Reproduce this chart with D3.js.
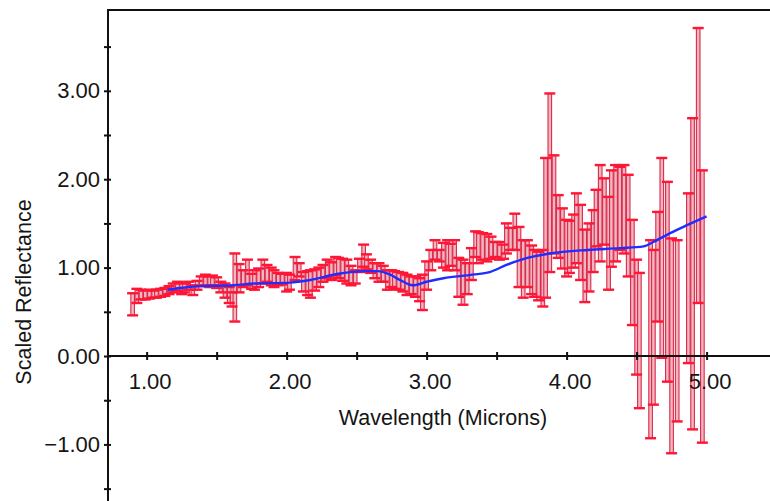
<!DOCTYPE html>
<html>
<head>
<meta charset="utf-8">
<script src="https://cdn.jsdelivr.net/npm/d3@7"></script>
<style>
  html, body { margin: 0; padding: 0; background: #fff; }
  svg { display: block; }
  text { font-family: "Liberation Sans", Arial, Helvetica, sans-serif; fill: #151515; }
</style>
</head>
<body>
<svg id="chart" width="770" height="501"></svg>
<script>
// ---- data ----
const wavelength = [
  0.90, 0.93, 0.96, 0.99, 1.02, 1.05, 1.07, 1.10, 1.13, 1.16,
  1.19, 1.22, 1.25, 1.27, 1.30, 1.33, 1.36, 1.39, 1.42, 1.45,
  1.47, 1.50, 1.53, 1.56, 1.59, 1.61, 1.63, 1.66, 1.69, 1.72,
  1.75, 1.77, 1.80, 1.83, 1.86, 1.89, 1.91, 1.94, 1.97, 2.00,
  2.02, 2.06, 2.09, 2.12, 2.15, 2.17, 2.20, 2.23, 2.26, 2.29,
  2.32, 2.35, 2.37, 2.40, 2.43, 2.46, 2.49, 2.52, 2.55, 2.57,
  2.60, 2.63, 2.66, 2.69, 2.72, 2.75, 2.77, 2.80, 2.83, 2.86,
  2.89, 2.92, 2.95, 2.97, 3.00, 3.03, 3.06, 3.09, 3.12, 3.15,
  3.17, 3.20, 3.23, 3.26, 3.29, 3.32, 3.35, 3.37, 3.40, 3.43,
  3.46, 3.49, 3.52, 3.55, 3.57, 3.60, 3.63, 3.66, 3.69, 3.72,
  3.75, 3.77, 3.80, 3.83, 3.85, 3.88, 3.91, 3.94, 3.97, 4.00,
  4.02, 4.05, 4.07, 4.10, 4.13, 4.16, 4.19, 4.21, 4.24, 4.27,
  4.30, 4.32, 4.35, 4.38, 4.41, 4.44, 4.47, 4.50, 4.52, 4.60,
  4.62, 4.65, 4.68, 4.72, 4.75, 4.79, 4.87, 4.90, 4.94, 4.97
];
const upper = [
  0.71, 0.76, 0.75, 0.74, 0.75, 0.74, 0.75, 0.76, 0.77, 0.79,
  0.82, 0.84, 0.83, 0.82, 0.84, 0.80, 0.85, 0.90, 0.92, 0.90,
  0.91, 0.89, 0.84, 0.82, 0.78, 0.72, 1.16, 1.04, 0.97, 1.09,
  0.93, 0.97, 0.99, 1.09, 1.03, 1.00, 0.97, 0.94, 0.93, 0.94,
  0.92, 1.12, 1.05, 0.95, 0.96, 0.97, 0.98, 1.00, 1.03, 1.09,
  1.06, 1.12, 1.11, 1.10, 1.09, 1.02, 0.97, 1.10, 1.26, 1.15,
  1.09, 1.05, 1.05, 1.02, 0.97, 0.97, 0.96, 0.95, 0.94, 0.92,
  0.90, 0.90, 0.88, 0.92, 1.07, 1.20, 1.31, 1.20, 1.28, 1.31,
  1.27, 1.31, 1.11, 1.09, 1.05, 1.22, 1.41, 1.40, 1.39, 1.38,
  1.35, 1.29, 1.29, 1.26, 1.50, 1.45, 1.61, 1.46, 1.31, 1.31,
  1.25, 1.20, 1.18, 1.20, 2.24, 2.97, 2.27, 1.82, 1.67, 1.54,
  1.53, 1.60, 1.84, 1.71, 1.43, 1.50, 1.65, 1.88, 2.16, 2.01,
  1.80, 2.10, 2.16, 2.14, 2.16, 2.05, 1.54, 1.09, 0.94, 1.31,
  1.20, 1.63, 2.24, 1.97, 1.33, 1.31, 1.84, 2.69, 3.71, 2.10
];
const lower = [
  0.46, 0.60, 0.64, 0.64, 0.65, 0.66, 0.66, 0.67, 0.68, 0.70,
  0.72, 0.74, 0.70, 0.72, 0.75, 0.69, 0.75, 0.79, 0.80, 0.78,
  0.80, 0.77, 0.72, 0.66, 0.60, 0.56, 0.39, 0.72, 0.78, 0.80,
  0.76, 0.75, 0.78, 0.82, 0.84, 0.80, 0.78, 0.80, 0.81, 0.73,
  0.75, 0.86, 0.90, 0.73, 0.69, 0.66, 0.74, 0.78, 0.84, 0.88,
  0.86, 0.91, 0.88, 0.85, 0.82, 0.80, 0.82, 0.95, 1.01, 0.98,
  0.94, 0.88, 0.84, 0.84, 0.75, 0.78, 0.76, 0.75, 0.73, 0.69,
  0.70, 0.67, 0.62, 0.52, 0.75, 0.97, 1.09, 1.07, 1.00, 0.97,
  1.02, 0.97, 0.67, 0.58, 0.70, 0.86, 1.12, 1.05, 1.09, 1.07,
  1.10, 1.12, 1.09, 1.10, 1.16, 1.20, 1.20, 0.78, 0.66, 0.78,
  0.70, 0.67, 0.63, 0.56, 0.66, 0.95, 1.16, 1.11, 0.99, 0.90,
  0.94, 1.00, 1.05, 0.86, 0.61, 0.73, 0.95, 1.24, 1.07, 1.26,
  0.75, 1.01, 1.07, 1.20, 1.16, 0.90, 0.35, -0.21, -0.59, -0.93,
  -0.55, 0.39, -0.02, -0.29, -1.10, -0.74, -0.08, -0.83, 0.60, -0.98
];
const modelWavelength = [
  1.15, 1.24, 1.38, 1.62, 1.77, 2.02, 2.17, 2.37, 2.56, 2.65,
  2.74, 2.81, 2.90, 3.00, 3.12, 3.33, 3.45, 3.57, 3.72, 3.88,
  4.15, 4.38, 4.55, 4.62, 4.74, 4.86, 5.00
];
const modelValue = [
  0.75, 0.77, 0.79, 0.80, 0.82, 0.83, 0.86, 0.93, 0.96, 0.96,
  0.92, 0.86, 0.80, 0.84, 0.88, 0.92, 0.95, 1.03, 1.11, 1.16,
  1.20, 1.22, 1.24, 1.29, 1.39, 1.48, 1.58
];
const xTickValues = [1, 1.5, 2, 2.5, 3, 3.5, 4, 4.5, 5];
const xTickLabels = ["1.00", "", "2.00", "", "3.00", "", "4.00", "", "5.00"];
const yTickValues = [-1.5, -1, -0.5, 0, 0.5, 1, 1.5, 2, 2.5, 3, 3.5];
const yTickLabels = ["", "-1.00", "", "0.00", "", "1.00", "", "2.00", "", "3.00", ""];
const xTitle = "Wavelength (Microns)";
const yTitle = "Scaled Reflectance";

// ---- layout ----
const svg = d3.select("#chart");
const mLeft = 108, mRight = 770, mTop = 10, mBottom = 501;
const x = d3.scaleLinear().domain([0.724, 5.453]).range([mLeft, mRight]);
const y = d3.scaleLinear().domain([-1.64, 3.914]).range([mBottom, mTop]);

const points = wavelength.map((w, i) => ({ w, hi: upper[i], lo: lower[i] }));

// ---- error bars ----
const bars = svg.append("g");
bars.selectAll("rect.bar").data(points).join("rect")
  .attr("class", "bar")
  .attr("x", d => x(d.w) - 1.8)
  .attr("width", 3.6)
  .attr("y", d => y(d.hi))
  .attr("height", d => y(d.lo) - y(d.hi))
  .attr("fill", "#f3b5c1")
  .attr("stroke", "#d92a48")
  .attr("stroke-width", 1.1);
const capHalf = 5.5;
bars.selectAll("line.capTop").data(points).join("line")
  .attr("class", "capTop")
  .attr("x1", d => x(d.w) - capHalf).attr("x2", d => x(d.w) + capHalf)
  .attr("y1", d => y(d.hi)).attr("y2", d => y(d.hi))
  .attr("stroke", "#ff1535").attr("stroke-width", 2.4);
bars.selectAll("line.capBot").data(points).join("line")
  .attr("class", "capBot")
  .attr("x1", d => x(d.w) - capHalf).attr("x2", d => x(d.w) + capHalf)
  .attr("y1", d => y(d.lo)).attr("y2", d => y(d.lo))
  .attr("stroke", "#ff1535").attr("stroke-width", 2.4);

// ---- model line ----
const model = modelWavelength.map((w, i) => ({ w, v: modelValue[i] }));
svg.append("path")
  .datum(model)
  .attr("fill", "none")
  .attr("stroke", "#1f2dff")
  .attr("stroke-width", 2.4)
  .attr("stroke-linejoin", "round")
  .attr("d", d3.line().x(d => x(d.w)).y(d => y(d.v)).curve(d3.curveMonotoneX));

// ---- frame (top border) ----
svg.append("line")
  .attr("x1", mLeft).attr("x2", mRight)
  .attr("y1", mTop).attr("y2", mTop)
  .attr("stroke", "#111").attr("stroke-width", 2);

// ---- x axis at y = 0 ----
const xAxis = d3.axisBottom(x)
  .tickValues(xTickValues)
  .tickFormat((d, i) => xTickLabels[i])
  .tickSizeInner(4).tickSizeOuter(0).tickPadding(13);
const gx = svg.append("g").attr("transform", `translate(0,${y(0)})`).call(xAxis);
gx.select(".domain").attr("stroke", "#111").attr("stroke-width", 2)
  .attr("d", `M${mLeft},0H${mRight}`);
gx.selectAll(".tick line").attr("stroke", "#111").attr("stroke-width", 2)
  .attr("y1", -4).attr("y2", 4);
gx.selectAll(".tick text").attr("font-size", 22).attr("fill", "#151515")
  .attr("dx", 3)
  .attr("font-family", "Liberation Sans, Arial, sans-serif");

// ---- y axis ----
const yAxis = d3.axisLeft(y)
  .tickValues(yTickValues)
  .tickFormat((d, i) => yTickLabels[i].replace("-", "\u2212"))
  .tickSizeInner(4).tickSizeOuter(0).tickPadding(4);
const gy = svg.append("g").attr("transform", `translate(${mLeft},0)`).call(yAxis);
gy.select(".domain").attr("stroke", "#111").attr("stroke-width", 2)
  .attr("d", `M0,${mTop - 1}V${mBottom}`);
gy.selectAll(".tick line").attr("stroke", "#111").attr("stroke-width", 2)
  .attr("x1", -4).attr("x2", 3);
gy.selectAll(".tick text").attr("font-size", 22).attr("fill", "#151515")
  .attr("font-family", "Liberation Sans, Arial, sans-serif");

// ---- titles ----
svg.append("text")
  .attr("x", 443).attr("y", 425)
  .attr("text-anchor", "middle")
  .attr("font-size", 21.5)
  .text(xTitle);
svg.append("text")
  .attr("transform", "translate(31,292) rotate(-90)")
  .attr("text-anchor", "middle")
  .attr("font-size", 21.5)
  .text(yTitle);
</script>
</body>
</html>
